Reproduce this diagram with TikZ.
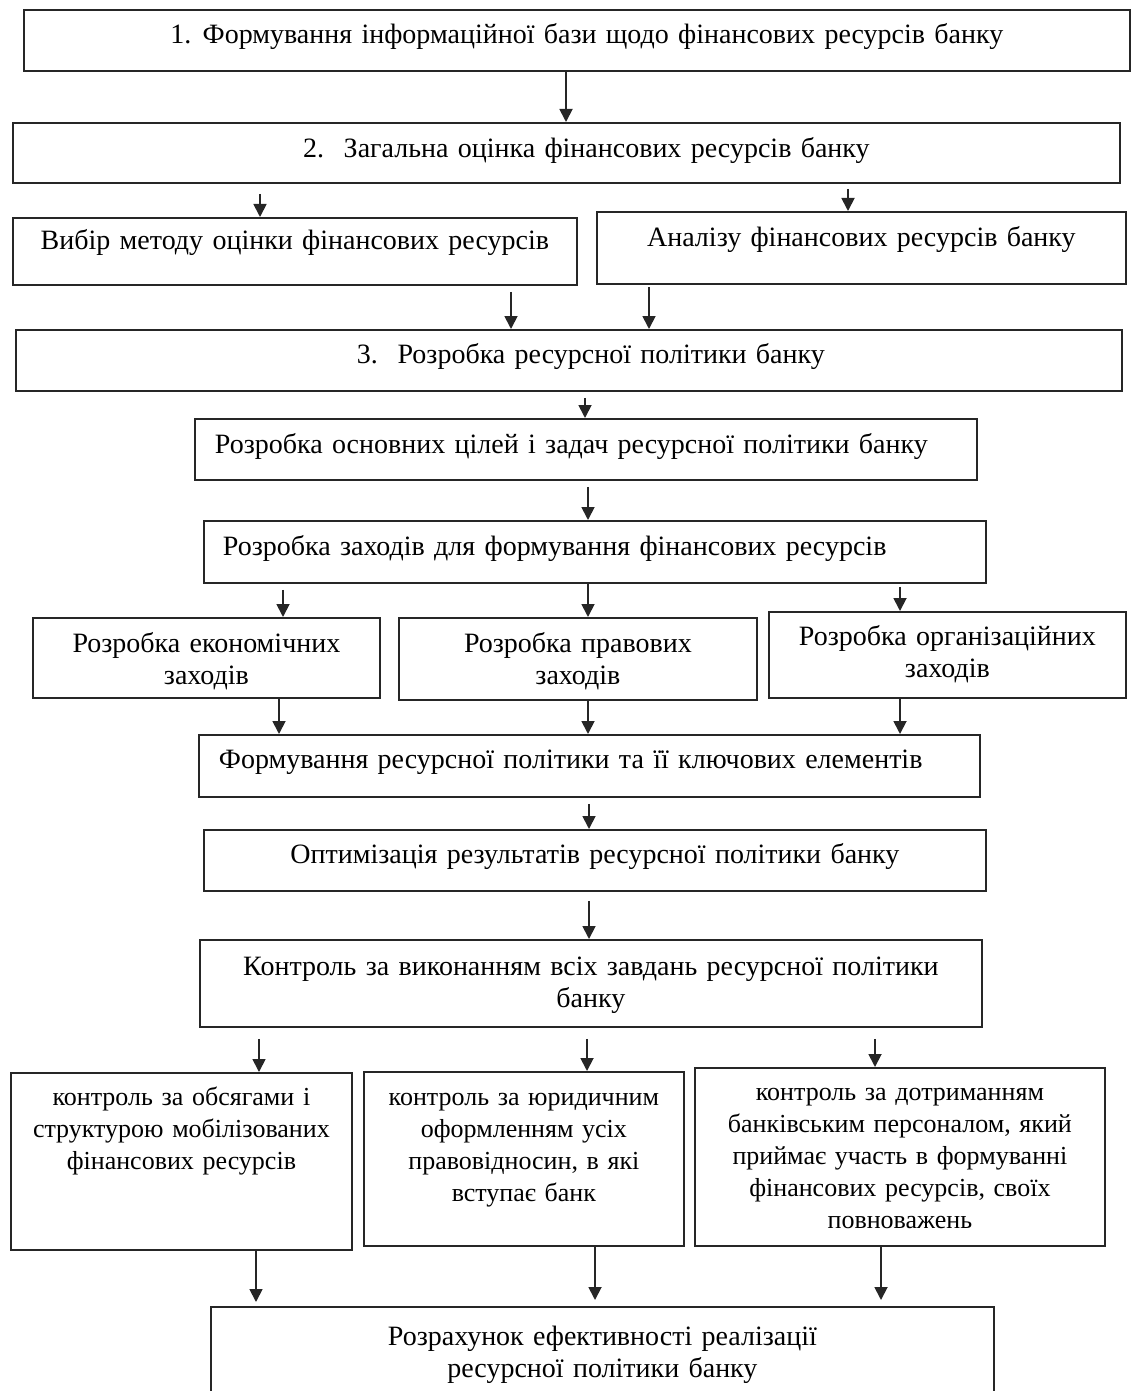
\documentclass[tikz,border=0pt]{standalone}
\usepackage{fontspec}
\setmainfont{Liberation Serif}
\usetikzlibrary{arrows.meta}

\begin{document}
\begin{tikzpicture}[x=0.5pt, y=-0.5pt,
    box/.style={draw=black!85, line width=0.9pt, inner sep=0pt, anchor=north west,
      font=\fontsize{14}{16}\selectfont, align=center},
    small/.style={font=\fontsize{13}{16}\selectfont},
    arr/.style={draw=black!85, line width=0.9pt, -{Triangle[width=6.5pt,length=6.5pt]}}]
  \useasboundingbox (0,0) rectangle (1131,1391);

  \node[box, text width=553pt, text height=17pt, text depth=13.5pt](b1) at (23,9)
    {\hspace*{10pt}1.\hspace{0.4em}Формування інформаційної бази щодо фінансових ресурсів банку};
  \node[box, text width=553.5pt, text height=17.5pt, text depth=12.5pt](b2) at (12,122)
    {\hspace*{20pt}2.\hspace{0.7em}Загальна оцінка фінансових ресурсів банку};
  \node[box, text width=282pt, text height=16pt, text depth=17.5pt](b3a) at (12,217)
    {Вибір методу оцінки фінансових ресурсів};
  \node[box, text width=264.5pt, text height=17.5pt, text depth=18.5pt](b3b) at (596,211)
    {Аналізу фінансових ресурсів банку};
  \node[box, text width=553pt, text height=17pt, text depth=13.5pt](b4) at (15,329)
    {\hspace*{22pt}3.\hspace{0.7em}Розробка ресурсної політики банку};
  \node[box, align=left, text width=391pt, text height=17.5pt, text depth=13pt](b5) at (194,418)
    {\hspace*{10pt}Розробка основних цілей і задач ресурсної політики банку};
  \node[box, align=left, text width=391pt, text height=17.5pt, text depth=13.5pt](b6) at (203,520)
    {\hspace*{9.5pt}Розробка заходів для формування фінансових ресурсів};

  \node[box, text width=173.5pt, text height=17.5pt, text depth=22.5pt](b7a) at (32,617)
    {Розробка економічних\\заходів};
  \node[box, text width=179pt, text height=17.5pt, text depth=23.5pt](b7b) at (398,617)
    {Розробка правових\\заходів};
  \node[box, text width=178.5pt, text height=17pt, text depth=26pt](b7c) at (768,611)
    {Розробка організаційних\\заходів};

  \node[box, align=left, text width=390.5pt, text height=17pt, text depth=14pt](b8) at (198,734)
    {\hspace*{10pt}Формування ресурсної політики та її ключових елементів};
  \node[box, text width=391pt, text height=17pt, text depth=13.5pt](b9) at (203,829)
    {Оптимізація результатів ресурсної політики банку};
  \node[box, text width=391pt, text height=18pt, text depth=25.5pt](b10) at (199,939)
    {Контроль за виконанням всіх завдань ресурсної політики\\банку};

  \node[box, small, text width=170.5pt, text height=16.5pt, text depth=72pt](b11a) at (10,1072)
    {контроль за обсягами і\\структурою мобілізованих\\фінансових ресурсів};
  \node[box, small, text width=160pt, text height=17pt, text depth=70pt](b11b) at (363,1071)
    {контроль за юридичним\\оформленням усіх\\правовідносин, в які\\вступає банк};
  \node[box, small, text width=205pt, text height=16.5pt, text depth=72.5pt](b11c) at (694,1067)
    {контроль за дотриманням\\банківським персоналом, який\\приймає участь в формуванні\\фінансових ресурсів, своїх\\повноважень};

  \node[box, text width=391.5pt, text height=19.5pt, text depth=27.5pt](b12) at (210,1306)
    {Розрахунок ефективності реалізації\\ресурсної політики банку};

  \draw[arr] (b1.south -| 566,0) -- (b2.north -| 566,0);
  \draw[arr, shorten <=5pt] (b2.south -| 260,0) -- (b3a.north -| 260,0);
  \draw[arr, shorten <=2.5pt] (b2.south -| 848,0) -- (b3b.north -| 848,0);
  \draw[arr, shorten <=3pt] (b3a.south -| 511,0) -- (b4.north -| 511,0);
  \draw[arr, shorten <=1pt] (b3b.south -| 649,0) -- (b4.north -| 649,0);
  \draw[arr, shorten <=3pt] (b4.south -| 585,0) -- (b5.north -| 585,0);
  \draw[arr, shorten <=3pt] (b5.south -| 588,0) -- (b6.north -| 588,0);

  \draw[arr, shorten <=3pt] (b6.south -| 283,0) -- (b7a.north -| 283,0);
  \draw[arr] (b6.south -| 588,0) -- (b7b.north -| 588,0);
  \draw[arr, shorten <=1.5pt] (b6.south -| 900,0) -- (b7c.north -| 900,0);

  \draw[arr] (b7a.south -| 279,0) -- (b8.north -| 279,0);
  \draw[arr] (b7b.south -| 588,0) -- (b8.north -| 588,0);
  \draw[arr] (b7c.south -| 900,0) -- (b8.north -| 900,0);

  \draw[arr, shorten <=3pt] (b8.south -| 589,0) -- (b9.north -| 589,0);
  \draw[arr, shorten <=4.5pt] (b9.south -| 589,0) -- (b10.north -| 589,0);

  \draw[arr, shorten <=5.5pt] (b10.south -| 259,0) -- (b11a.north -| 259,0);
  \draw[arr, shorten <=5.5pt] (b10.south -| 587,0) -- (b11b.north -| 587,0);
  \draw[arr, shorten <=5.5pt] (b10.south -| 875,0) -- (b11c.north -| 875,0);

  \draw[arr, shorten >=2pt] (b11a.south -| 256,0) -- (b12.north -| 256,0);
  \draw[arr, shorten >=3pt] (b11b.south -| 595,0) -- (b12.north -| 595,0);
  \draw[arr, shorten >=3pt] (b11c.south -| 881,0) -- (b12.north -| 881,0);
\end{tikzpicture}
\end{document}
